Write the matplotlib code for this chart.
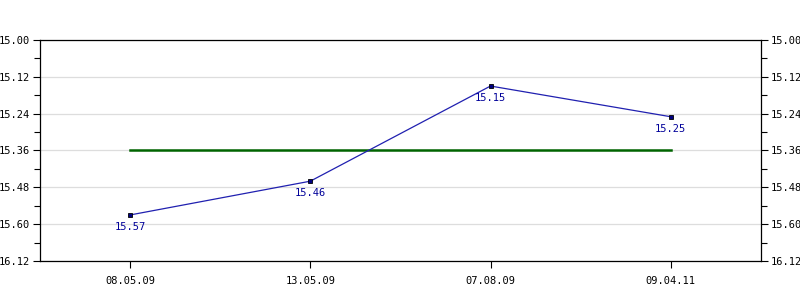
import matplotlib.pyplot as plt
import numpy as np

# Datos del gráfico
dates = ['08.05.09', '13.05.09', '07.08.09', '09.04.11']
values = [15.57, 15.46, 15.15, 15.25]
y_ticks = [15.00, 15.12, 15.24, 15.36, 15.48, 15.60, 15.72]
y_labels = ['15.00', '15.12', '15.24', '15.36', '15.48', '15.60', '16.12']

avg = np.mean(values)
x = np.arange(len(dates))

fig = plt.figure(figsize=(8, 3), dpi=100)
ax = fig.add_axes([0.05, 0.13, 0.901, 0.7367])

font = 'DejaVu Sans Mono'
fs = 7.5

# Línea de media
ax.plot([x[0], x[-1]], [avg, avg], color='#006400', linewidth=1.8, zorder=2)

# Serie principal
ax.plot(x, values, color='#2020b0', linewidth=0.9, zorder=3,
        marker='s', markersize=3.5, markerfacecolor='#000080',
        markeredgecolor='black', markeredgewidth=0.6)

for xi, v in zip(x, values):
    ax.annotate(f'{v:.2f}', (xi, v), xytext=(0, -5), textcoords='offset points',
                ha='center', va='top', color='#000099', fontsize=fs, family=font)

ax.set_xlim(-0.5, len(dates) - 0.5)
ax.set_ylim(15.72, 15.00)

ax.set_xticks(x)
ax.set_xticklabels(dates, fontsize=fs, family=font)
ax.set_yticks(y_ticks)
ax.set_yticklabels(y_labels, fontsize=fs, family=font)
ax.set_yticks(np.array(y_ticks[:-1]) + 0.06, minor=True)

ax.tick_params(axis='y', which='both', left=True, right=True,
               labelleft=True, labelright=True, direction='out', pad=2)
ax.tick_params(axis='y', which='major', length=5, width=0.8)
ax.tick_params(axis='y', which='minor', length=4, width=0.8)
ax.tick_params(axis='x', length=5, width=0.8, pad=6)

ax.grid(axis='y', which='major', color='#dddddd', linewidth=0.9, zorder=0)
for s in ax.spines.values():
    s.set_linewidth(0.9)
    s.set_color('black')

fig.savefig('out.png', dpi=100)
